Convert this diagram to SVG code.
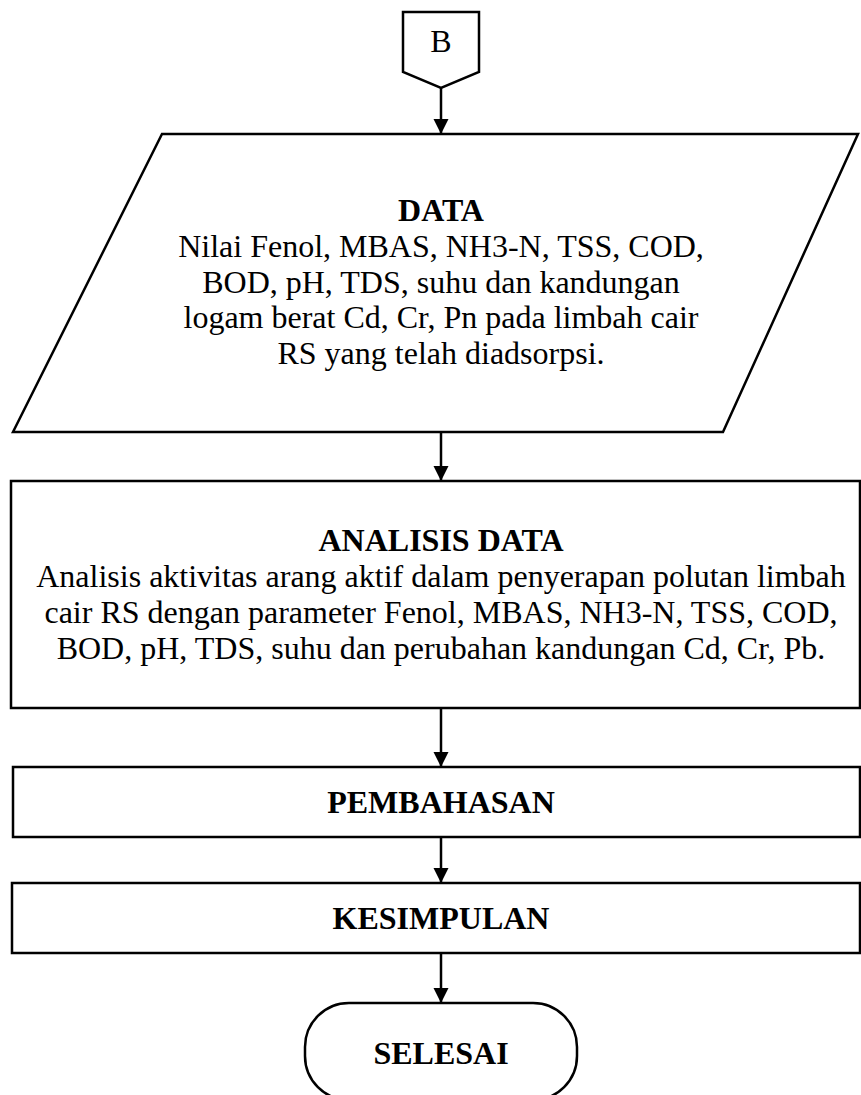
<svg xmlns="http://www.w3.org/2000/svg" width="861" height="1095" viewBox="0 0 861 1095">
<style>
.shape{fill:#fff;stroke:#000;stroke-width:2.5}
.t{font-family:"Liberation Serif","Times New Roman",serif;font-size:32px;fill:#000;text-anchor:middle}
.b{font-weight:bold}
.conn{stroke:#000;stroke-width:2.5;fill:none}
</style>
<defs>
<marker id="arr" markerWidth="15" markerHeight="16" refX="14" refY="7.5" orient="auto" markerUnits="userSpaceOnUse" viewBox="0 0 15 15">
<path d="M0,0 L15,7.5 L0,15 Z" fill="#000"/>
</marker>
</defs>
<rect width="861" height="1095" fill="#fff"/>
<g id="connectors">
<line class="conn" x1="441" y1="88" x2="441" y2="133" marker-end="url(#arr)"/>
<line class="conn" x1="441" y1="432" x2="441" y2="480" marker-end="url(#arr)"/>
<line class="conn" x1="441" y1="708" x2="441" y2="766" marker-end="url(#arr)"/>
<line class="conn" x1="441" y1="837" x2="441" y2="882" marker-end="url(#arr)"/>
<line class="conn" x1="441" y1="953" x2="441" y2="1002" marker-end="url(#arr)"/>
</g>
<g id="offpage-B">
<polygon class="shape" points="403,12 479,12 479,72 441,88 403,72"/>
<text class="t" x="441" y="52">B</text>
</g>
<g id="data">
<polygon class="shape" points="162,134 858,134 723,432 13,432"/>
<text class="t b" x="441" y="221">DATA</text>
<text class="t" x="441" y="257">Nilai Fenol, MBAS, NH3-N, TSS, COD,</text>
<text class="t" x="441" y="293">BOD, pH, TDS, suhu dan kandungan</text>
<text class="t" x="441" y="328">logam berat Cd, Cr, Pn pada limbah cair</text>
<text class="t" x="441" y="364">RS yang telah diadsorpsi.</text>
</g>
<g id="analisis">
<rect class="shape" x="11" y="481" width="849" height="227"/>
<text class="t b" x="441" y="551">ANALISIS DATA</text>
<text class="t" x="441" y="587">Analisis aktivitas arang aktif dalam penyerapan polutan limbah</text>
<text class="t" x="441" y="623">cair RS dengan parameter Fenol, MBAS, NH3-N, TSS, COD,</text>
<text class="t" x="441" y="659">BOD, pH, TDS, suhu dan perubahan kandungan Cd, Cr, Pb.</text>
</g>
<g id="pembahasan">
<rect class="shape" x="13" y="767" width="847" height="70"/>
<text class="t b" x="441" y="813">PEMBAHASAN</text>
</g>
<g id="kesimpulan">
<rect class="shape" x="12" y="883" width="848" height="70"/>
<text class="t b" x="441" y="929">KESIMPULAN</text>
</g>
<g id="selesai">
<rect class="shape" x="305" y="1003" width="272" height="97" rx="44" ry="44"/>
<text class="t b" x="441" y="1064">SELESAI</text>
</g>
</svg>
